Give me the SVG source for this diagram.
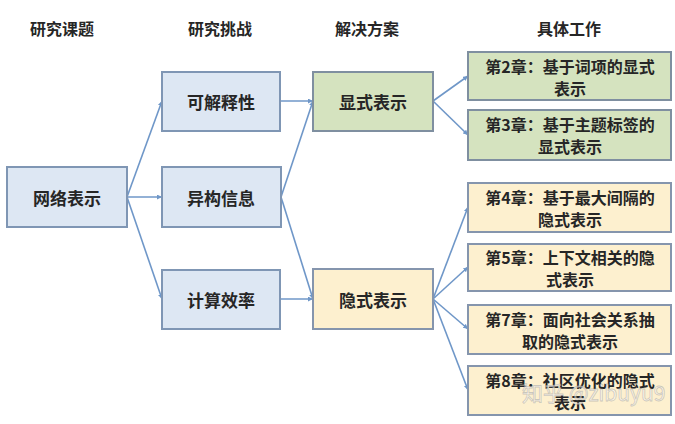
<svg xmlns="http://www.w3.org/2000/svg" width="675" height="424" viewBox="0 0 675 424">
<style>
text{font-family:"Noto Sans CJK SC","Liberation Sans",sans-serif;font-weight:bold;fill:#262626;text-anchor:middle;dominant-baseline:central}
.h{font-size:16px}
.t{font-size:17px}
.c{font-size:16px}
.b{fill:#dde7f3;stroke:#7f96b4;stroke-width:2}
.g{fill:#d5e3bf;stroke:#7f8fa0;stroke-width:2}
.y{fill:#fdf0cf;stroke:#8595ad;stroke-width:2}
.e{fill:none;stroke:#6f97c8;stroke-width:1.6;marker-end:url(#a)}
.wm{font-size:21px;font-weight:normal;fill:#ffffff;fill-opacity:0.55;stroke:#9a9a9a;stroke-opacity:0.5;stroke-width:0.8;text-anchor:start}
</style>
<defs>
<marker id="a" viewBox="0 0 10 10" refX="10" refY="5" markerWidth="5" markerHeight="5" orient="auto" markerUnits="userSpaceOnUse"><path d="M0,0L10,5L0,10z" fill="#6f97c8"/></marker>
</defs>
<rect width="675" height="424" fill="#fff"/>
<g id="headers">
<text class="h" x="62" y="28">研究课题</text>
<text class="h" x="220" y="28">研究挑战</text>
<text class="h" x="367" y="28">解决方案</text>
<text class="h" x="569" y="28">具体工作</text>
</g>
<g id="edges">
<path class="e" d="M127,197L162,101"/>
<path class="e" d="M127,197L162,197"/>
<path class="e" d="M127,197L162,299"/>
<path class="e" d="M280,101L313,101"/>
<path class="e" d="M281,197L313,101"/>
<path class="e" d="M281,197L313,299"/>
<path class="e" d="M280,299L313,299"/>
<path class="e" d="M433,101L468,76"/>
<path class="e" d="M433,101L468,135"/>
<path class="e" d="M433,299L468,207"/>
<path class="e" d="M433,299L468,267"/>
<path class="e" d="M433,299L468,329"/>
<path class="e" d="M433,299L468,390"/>
</g>
<g id="n1"><rect class="b" x="7" y="167" width="120" height="60"/><text class="t" x="67" y="197">网络表示</text></g>
<g id="n2"><rect class="b" x="162" y="72" width="118" height="59"/><text class="t" x="221" y="101">可解释性</text></g>
<g id="n3"><rect class="b" x="162" y="167" width="119" height="60"/><text class="t" x="221" y="197">异构信息</text></g>
<g id="n4"><rect class="b" x="162" y="270" width="118" height="59"/><text class="t" x="221" y="299">计算效率</text></g>
<g id="n5"><rect class="g" x="313" y="72" width="120" height="59"/><text class="t" x="373" y="101">显式表示</text></g>
<g id="n6"><rect class="y" x="313" y="269" width="120" height="60"/><text class="t" x="373" y="299">隐式表示</text></g>
<g id="c2"><rect class="g" x="468" y="52" width="203" height="48"/><text class="c" x="570" y="66">第2章：基于词项的显式</text><text class="c" x="570" y="88">表示</text></g>
<g id="c3"><rect class="g" x="468" y="110" width="203" height="50"/><text class="c" x="570" y="124">第3章：基于主题标签的</text><text class="c" x="570" y="146">显式表示</text></g>
<g id="c4"><rect class="y" x="468" y="183" width="203" height="49"/><text class="c" x="570" y="197">第4章：基于最大间隔的</text><text class="c" x="570" y="219">隐式表示</text></g>
<g id="c5"><rect class="y" x="468" y="244" width="203" height="47"/><text class="c" x="570" y="257">第5章：上下文相关的隐</text><text class="c" x="570" y="279">式表示</text></g>
<g id="c7"><rect class="y" x="468" y="305" width="203" height="49"/><text class="c" x="570" y="319">第7章：面向社会关系抽</text><text class="c" x="570" y="341">取的隐式表示</text></g>
<g id="c8"><rect class="y" x="468" y="366" width="203" height="49"/><text class="c" x="570" y="380">第8章：社区优化的隐式</text><text class="c" x="570" y="402">表示</text></g>
<text class="wm" x="522" y="392">知乎 @zibuyu9</text>
</svg>
